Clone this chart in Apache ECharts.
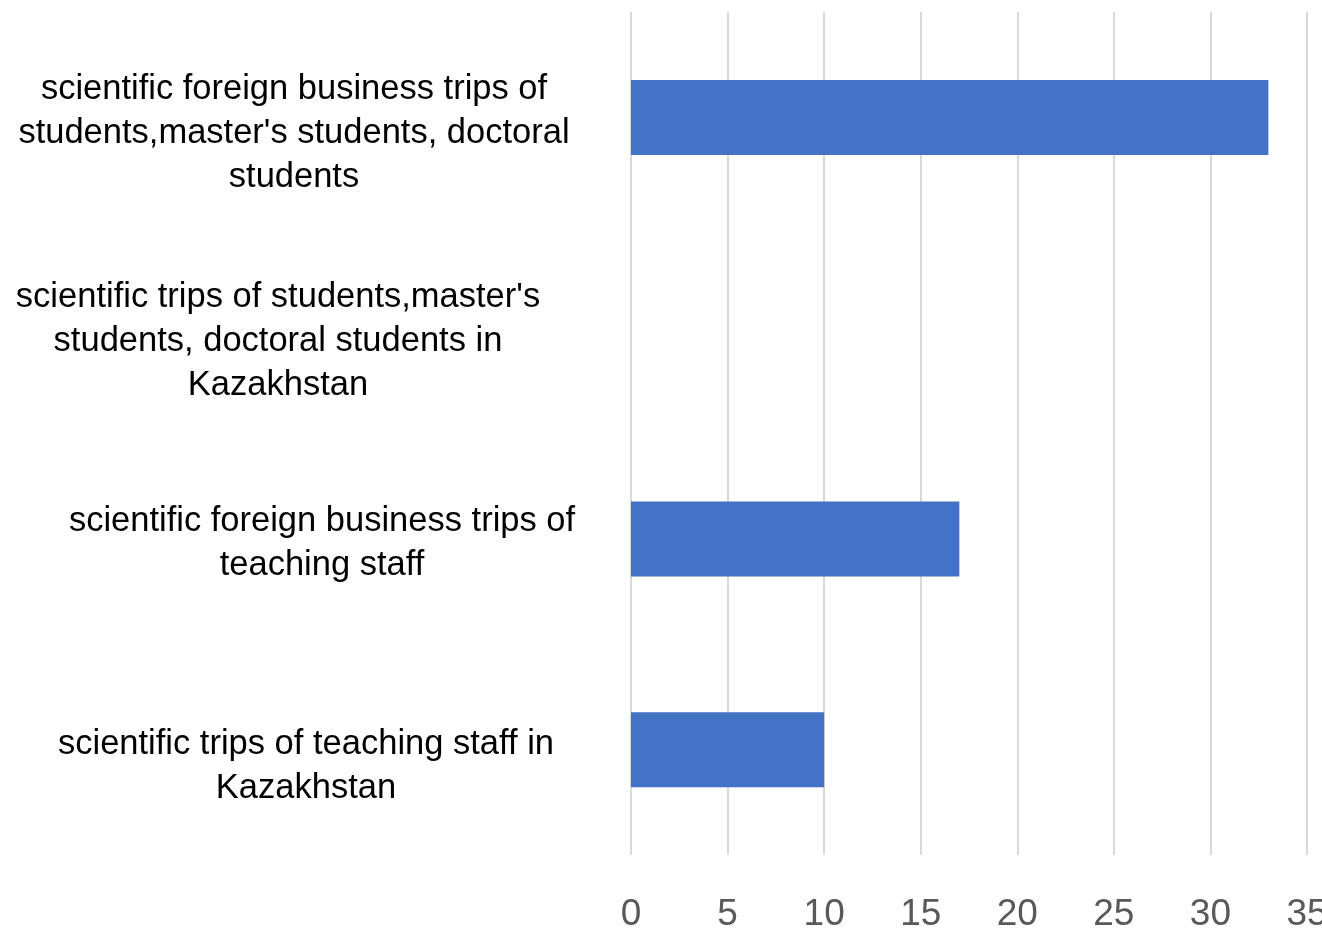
<!DOCTYPE html>
<html>
<head>
<meta charset="utf-8">
<script src="https://cdn.jsdelivr.net/npm/echarts@6/dist/echarts.min.js"></script>
<style>html,body{margin:0;padding:0;background:#fff}#chart{width:1322px;height:929px}</style>
</head>
<body>
<div id="chart"></div>
<script>
const categories = [
  "scientific foreign business trips of\nstudents,master's students, doctoral\nstudents",
  "scientific trips of students,master's\nstudents, doctoral students in\nKazakhstan",
  "scientific foreign business trips of\nteaching staff",
  "scientific trips of teaching staff in\nKazakhstan"
];
const values = [33, 0, 17, 10];
const xTicks = [0, 5, 10, 15, 20, 25, 30, 35];

// per-label offsets (dx, dy) to mimic the reference placement
const labelShift = [[0, 16], [-16, 13], [28, 5], [12, 17]];
const LINE_H = 44;

const chart = echarts.init(document.getElementById('chart'), null, {renderer: 'canvas'});
const font = "'Liberation Sans', Arial, sans-serif";
chart.setOption({
  animation: false,
  grid: {left: 631, right: 15, top: 12, bottom: 74, containLabel: false, outerBoundsMode: 'none'},
  xAxis: {
    type: 'value',
    min: xTicks[0], max: xTicks[xTicks.length - 1], interval: 5,
    axisLine: {show: false}, axisTick: {show: false},
    splitLine: {show: true, lineStyle: {color: '#d9d9d9', width: 2}},
    axisLabel: {fontFamily: font, fontSize: 37, color: '#595959', margin: 41}
  },
  yAxis: {
    type: 'category', inverse: true,
    data: categories.map((c, i) => {
      const [dx, dy] = labelShift[i];
      const n = c.split('\n').length;
      return {
        value: c,
        textStyle: {
          align: 'center',
          verticalAlign: 'top',
          padding: [dy - n * LINE_H / 2, Math.max(-dx, 0) * 2, 0, Math.max(dx, 0) * 2]
        }
      };
    }),
    axisLine: {show: false}, axisTick: {show: false},
    axisLabel: {
      fontFamily: font, fontSize: 34.5, color: '#000', lineHeight: LINE_H,
      align: 'center', margin: 337, interval: 0
    }
  },
  series: [{
    type: 'bar', data: values, barWidth: 75,
    itemStyle: {color: '#4472C4'}
  }]
});
</script>
</body>
</html>
